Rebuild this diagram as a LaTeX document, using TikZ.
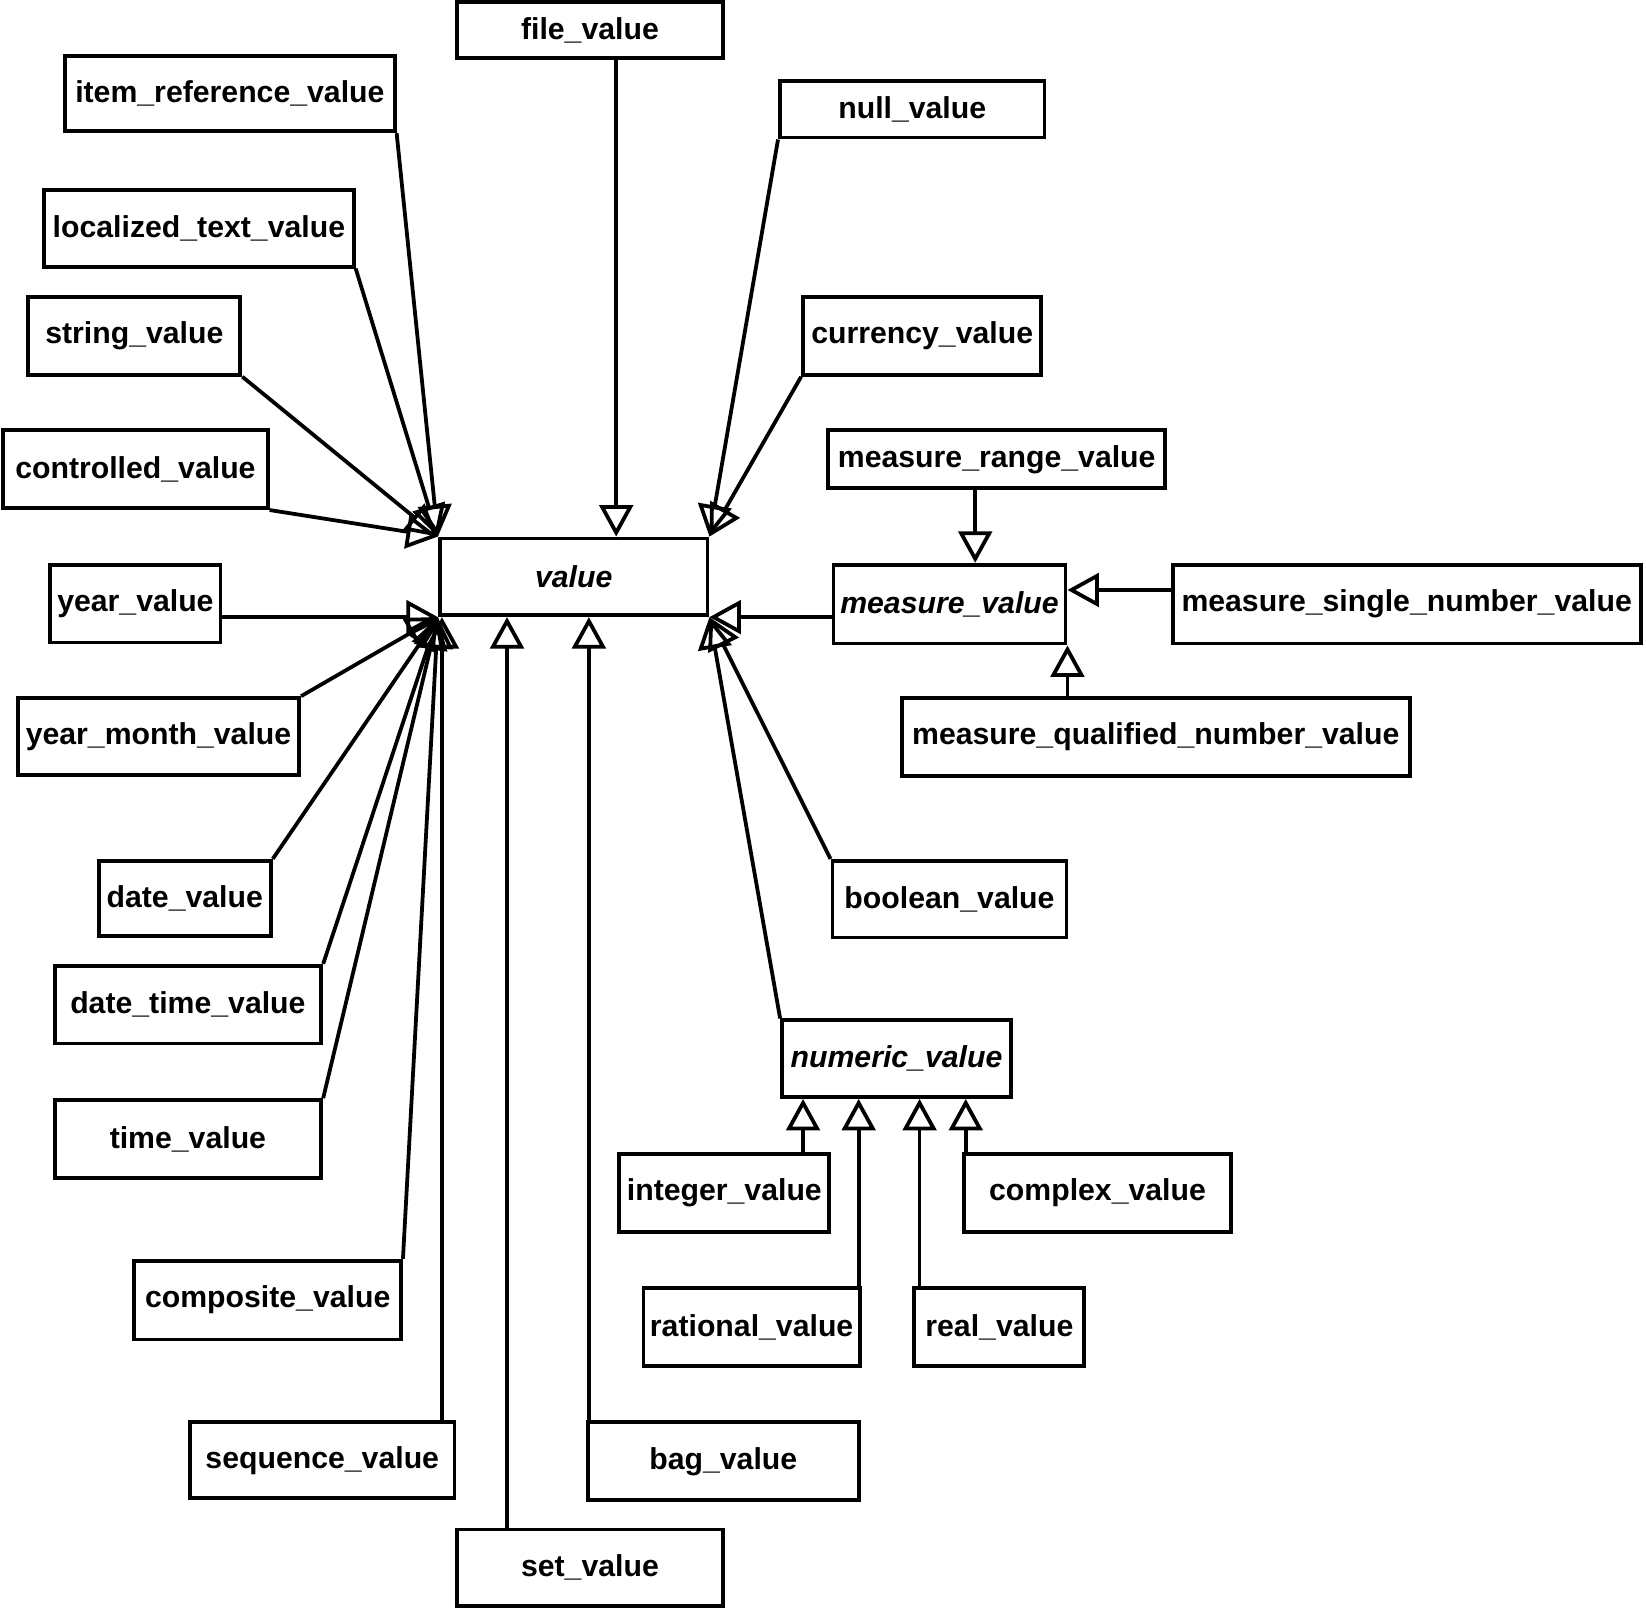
\documentclass[tikz,border=0pt]{standalone}
\usepackage{fontspec}
\setmainfont{Liberation Sans}
\usetikzlibrary{arrows.meta}
\begin{document}
\begin{tikzpicture}[x=0.5pt,y=-0.5pt,
  box/.style={draw, line width=1.85pt, inner sep=0pt, font=\fontsize{14.4}{17}\selectfont\bfseries},
  absbox/.style={box, font=\fontsize{14.4}{17}\selectfont\bfseries\itshape},
  gen/.style={line width=1.8pt, -{Triangle[open,length=15pt,width=16pt]}}]
\useasboundingbox (0,0) rectangle (1568,1533);

% nodes
\node[box, minimum width=127pt, minimum height=26.5pt] (file) at (562,28.5) {file\_value};
\node[box, minimum width=157pt, minimum height=36pt] (irv) at (219,89) {item\_reference\_value};
\node[box, minimum width=126pt, minimum height=27pt] (null) at (869,104) {null\_value};
\node[box, minimum width=147.5pt, minimum height=36.5pt] (loc) at (189.5,217.5) {localized\_text\_value};
\node[box, minimum width=101pt, minimum height=37pt] (str) at (128,320) {string\_value};
\node[box, minimum width=113.5pt, minimum height=37pt] (cur) at (878.5,320) {currency\_value};
\node[box, minimum width=126pt, minimum height=37pt] (ctl) at (129,447) {controlled\_value};
\node[box, minimum width=160.5pt, minimum height=27.5pt] (mrv) at (949.5,437.5) {measure\_range\_value};
\node[absbox, minimum width=127.5pt, minimum height=36.5pt] (val) at (546.5,549.5) {value};
\node[absbox, minimum width=110.5pt, minimum height=37.5pt] (mv) at (904.5,575.5) {measure\_value};
\node[box, minimum width=223pt, minimum height=37.5pt] (msnv) at (1340,575.5) {measure\_single\_number\_value};
\node[box, minimum width=81pt, minimum height=37pt] (yv) at (129,575) {year\_value};
\node[box, minimum width=134pt, minimum height=36.5pt] (ymv) at (151,701.5) {year\_month\_value};
\node[box, minimum width=242pt, minimum height=37pt] (mqnv) at (1101,702) {measure\_qualified\_number\_value};
\node[box, minimum width=82pt, minimum height=36pt] (dv) at (176,856) {date\_value};
\node[box, minimum width=111.5pt, minimum height=36.5pt] (bv) at (904.5,856.5) {boolean\_value};
\node[box, minimum width=127pt, minimum height=37pt] (dtv) at (179,957) {date\_time\_value};
\node[absbox, minimum width=109pt, minimum height=36.5pt] (nv) at (854,1008.5) {numeric\_value};
\node[box, minimum width=127pt, minimum height=37pt] (tv) at (179,1085) {time\_value};
\node[box, minimum width=100pt, minimum height=37.5pt] (iv) at (690,1136.5) {integer\_value};
\node[box, minimum width=127.5pt, minimum height=37.5pt] (cxv) at (1045.5,1136.5) {complex\_value};
\node[box, minimum width=127pt, minimum height=37.5pt] (cpv) at (255,1238.5) {composite\_value};
\node[box, minimum width=103pt, minimum height=37pt] (rv) at (716,1264) {rational\_value};
\node[box, minimum width=81pt, minimum height=37pt] (rlv) at (952,1264) {real\_value};
\node[box, minimum width=126pt, minimum height=36pt] (sqv) at (307,1391) {sequence\_value};
\node[box, minimum width=129pt, minimum height=37pt] (bgv) at (689,1392) {bag\_value};
\node[box, minimum width=127pt, minimum height=36.5pt] (stv) at (562,1493.5) {set\_value};

% helper coordinates for vertical / horizontal connector positions
\coordinate (xf) at (587,0);
\coordinate (xsq) at (421,0);
\coordinate (xst) at (483,0);
\coordinate (xbg) at (561,0);
\coordinate (xmr) at (929,0);
\coordinate (ymsn) at (0,562);
\coordinate (xiv) at (765,0);
\coordinate (xrv) at (818,0);
\coordinate (xrl) at (876,0);
\coordinate (xcx) at (920,0);

% connectors to value (top)
\draw[gen] (file.south -| xf) -- (val.north -| xf);
\draw[gen] (irv.south east) -- (val.north west);
\draw[gen] (loc.south east) -- (val.north west);
\draw[gen] (str.south east) -- (val.north west);
\draw[gen] (ctl.south east) -- (val.north west);
\draw[gen] (null.south west) -- (val.north east);
\draw[gen] (cur.south west) -- (val.north east);

% connectors to value (bottom left)
\draw[gen] (yv.east |- val.south west) -- (val.south west);
\draw[gen] (ymv.north east) -- (val.south west);
\draw[gen] (dv.north east) -- (val.south west);
\draw[gen] (dtv.north east) -- (val.south west);
\draw[gen] (tv.north east) -- (val.south west);
\draw[gen] (cpv.north east) -- (val.south west);
\draw[gen] (sqv.north -| xsq) -- (val.south -| xsq);
\draw[gen] (stv.north -| xst) -- (val.south -| xst);
\draw[gen] (bgv.north -| xbg) -- (val.south -| xbg);

% connectors to value (bottom right)
\draw[gen] (mv.west |- val.south east) -- (val.south east);
\draw[gen] (bv.north west) -- (val.south east);
\draw[gen] (nv.north west) -- (val.south east);

% measure_value subtypes
\draw[gen] (mrv.south -| xmr) -- (mv.north -| xmr);
\draw[gen] (msnv.west |- ymsn) -- (mv.east |- ymsn);
\draw[gen] (mqnv.north -| mv.south east) -- (mv.south east);

% numeric_value subtypes
\draw[gen] (iv.north -| xiv) -- (nv.south -| xiv);
\draw[gen] (rv.north -| xrv) -- (nv.south -| xrv);
\draw[gen] (rlv.north -| xrl) -- (nv.south -| xrl);
\draw[gen] (cxv.north -| xcx) -- (nv.south -| xcx);
\end{tikzpicture}
\end{document}
